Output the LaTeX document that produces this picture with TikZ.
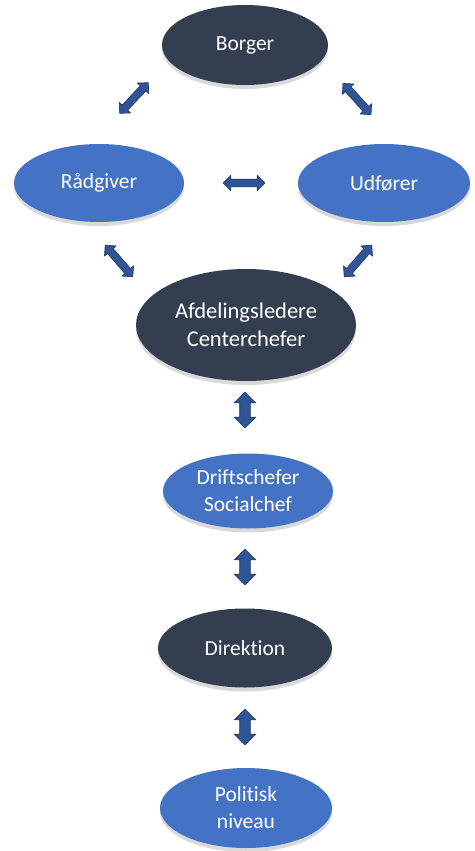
\documentclass[tikz,border=0pt]{standalone}
\usepackage{fontspec}
\setmainfont[Ligatures=NoCommon]{Carlito}
\usetikzlibrary{shapes.geometric,shapes.arrows,shadows}
\definecolor{darkslate}{HTML}{333F50}
\definecolor{officeblue}{HTML}{4472C4}
\definecolor{arrowblue}{HTML}{2F5597}
\definecolor{arrowline}{HTML}{203864}
\begin{document}
\begin{tikzpicture}[x=1pt,y=-1pt,line join=round,
    oval/.style={ellipse,inner sep=0pt,text=white,align=center,
        font=\fontsize{21.5}{27}\selectfont,
        drop shadow={opacity=0.3,shadow xshift=0pt,shadow yshift=-4pt}},
    darkoval/.style={oval,fill=darkslate},
    blueoval/.style={oval,fill=officeblue},
    dblarrow/.style={double arrow,fill=arrowblue,draw=arrowline,line width=0.6pt,
        inner sep=3.5pt,double arrow head extend=4pt,minimum height=42pt},
    bigarrow/.style={dblarrow,inner sep=5pt,double arrow head extend=5.5pt,minimum height=36pt}]
    \useasboundingbox (0,0) rectangle (474,851);
    % ellipses
    \node[darkoval,minimum width=166pt,minimum height=80pt] (borger) at (245,45) {Borger};
    \node[blueoval,minimum width=170pt,minimum height=78pt] (raadgiver) at (99,183) {Rådgiver};
    \node[blueoval,minimum width=172pt,minimum height=78pt] (udfoerer) at (384,183) {Udfører};
    \node[darkoval,minimum width=220pt,minimum height=112pt,font=\fontsize{22.5}{28}\selectfont] (afdeling) at (246,325) {Afdelingsledere\\Centerchefer};
    \node[blueoval,minimum width=170pt,minimum height=75pt] (drift) at (248,491) {Driftschefer\\Socialchef};
    \node[darkoval,minimum width=174pt,minimum height=79pt] (direktion) at (245,648) {Direktion};
    \node[blueoval,minimum width=172pt,minimum height=80pt] (politisk) at (246,808) {Politisk\\niveau};
    % arrows
    \node[dblarrow,rotate=47] (a1) at (134,98) {};
    \node[dblarrow,rotate=-48] (a2) at (357,99) {};
    \node[dblarrow] (a3) at (244,183) {};
    \node[dblarrow,rotate=-49] (a4) at (119,261) {};
    \node[dblarrow,rotate=49] (a5) at (358,261) {};
    \node[bigarrow,rotate=90] (a6) at (245,410) {};
    \node[bigarrow,rotate=90] (a7) at (245,567) {};
    \node[bigarrow,rotate=90] (a8) at (245,727) {};
\end{tikzpicture}
\end{document}
